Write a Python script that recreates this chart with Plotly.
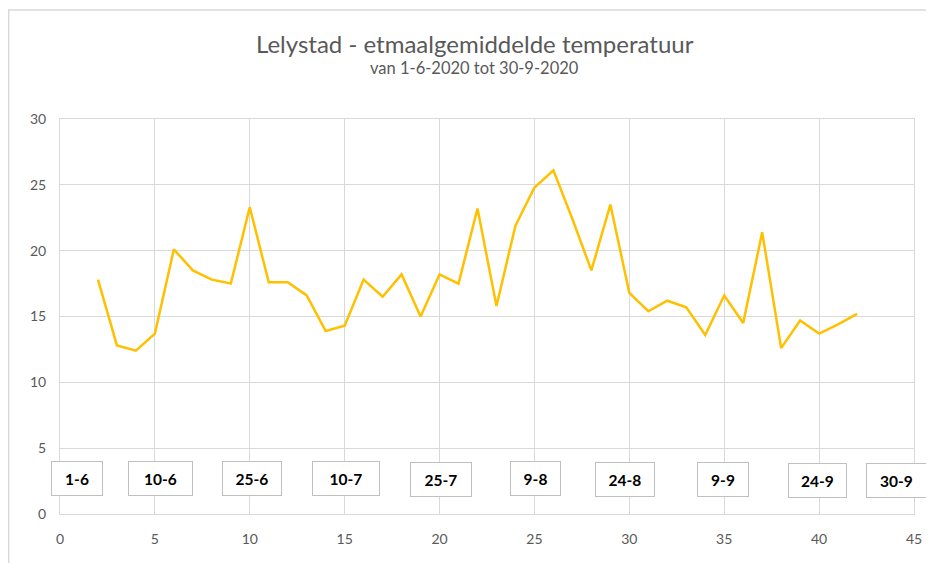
import plotly.graph_objects as go

days = list(range(2, 43))
temps = [17.8, 12.8, 12.4, 13.7, 20.1, 18.5, 17.8, 17.5, 23.3, 17.6,
         17.6, 16.6, 13.9, 14.3, 17.8, 16.5, 18.2, 15.0, 18.2, 17.5,
         23.2, 15.8, 21.9, 24.8, 26.1, 22.4, 18.5, 23.5, 16.8, 15.4,
         16.2, 15.7, 13.6, 16.6, 14.5, 21.4, 12.6, 14.7, 13.7, 14.4, 15.2]

date_labels = ["1-6", "10-6", "25-6", "10-7", "25-7", "9-8", "24-8", "9-9", "24-9", "30-9"]
label_x = [0.92, 5.28, 10.14, 15.06, 20.1, 25.05, 29.78, 34.93, 39.92, 44.07]
label_y = [2.72, 2.72, 2.72, 2.72, 2.6, 2.72, 2.62, 2.62, 2.58, 2.58]
label_w = [50, 63, 58, 66, 60, 49, 58, 50, 57, 59]

x_ticks = [0, 5, 10, 15, 20, 25, 30, 35, 40, 45]
y_ticks = [0, 5, 10, 15, 20, 25, 30]

FONT = "Lato"
GRAY = "#595959"
GRID = "#d9d9d9"

fig = go.Figure()
fig.add_trace(go.Scatter(x=days, y=temps, mode="lines",
                         line=dict(color="#FFC000", width=2.5),
                         showlegend=False, hoverinfo="x+y"))

annotations = [
    dict(text="Lelystad - etmaalgemiddelde temperatuur", xref="paper", yref="paper",
         x=0.4854, y=(514 - 43) / 395, xanchor="center", yanchor="middle",
         showarrow=False, font=dict(family=FONT, size=24, color=GRAY)),
    dict(text="van 1-6-2020 tot 30-9-2020", xref="paper", yref="paper",
         x=0.4854, y=(514 - 68) / 395, xanchor="center", yanchor="middle",
         showarrow=False, font=dict(family=FONT, size=16.5, color=GRAY)),
]
for t, x, y, w in zip(date_labels, label_x, label_y, label_w):
    annotations.append(dict(text="<b>" + t + "</b>", x=x, y=y, xref="x", yref="y",
                            showarrow=False, width=w, height=33, borderpad=0,
                            bgcolor="white", bordercolor="#bfbfbf", borderwidth=1,
                            font=dict(family=FONT, size=15.5, color="black")))

fig.update_layout(
    width=926, height=555,
    margin=dict(l=52, r=17, t=111, b=49),
    paper_bgcolor="white", plot_bgcolor="white",
    font=dict(family=FONT, color=GRAY, size=14),
    annotations=annotations,
    shapes=[dict(type="rect", xref="paper", yref="paper",
                 x0=(8.5 - 60) / 857, x1=(960 - 60) / 857,
                 y0=(514 - 600) / 395, y1=(514 - 10) / 395,
                 line=dict(color=GRID, width=1.5), fillcolor="rgba(0,0,0,0)", layer="below")],
    xaxis=dict(range=[0, 45], tickvals=x_ticks, showgrid=True, gridcolor=GRID, gridwidth=1,
               zeroline=False, showline=True, linecolor=GRID, mirror=True,
               ticks="outside", ticklen=12, tickcolor="rgba(0,0,0,0)",
               tickfont=dict(family=FONT, size=14, color=GRAY)),
    yaxis=dict(range=[0, 30], tickvals=y_ticks, showgrid=True, gridcolor=GRID, gridwidth=1,
               zeroline=False, showline=True, linecolor=GRID, mirror=True,
               ticks="outside", ticklen=10, tickcolor="rgba(0,0,0,0)",
               tickfont=dict(family=FONT, size=14, color=GRAY)),
)

fig.write_html("out.html")
